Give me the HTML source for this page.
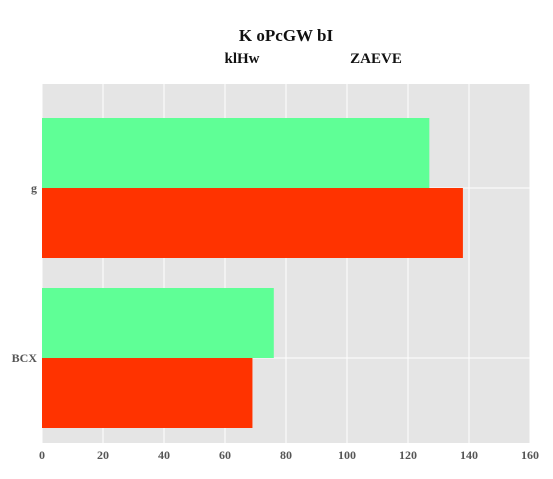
<!DOCTYPE html>
<html><head><meta charset="utf-8"><style>
body{margin:0;background:#fff;}
svg text{font-family:"Liberation Serif",serif;}
</style></head><body>
<svg width="553" height="474" xmlns="http://www.w3.org/2000/svg">
<text x="286" y="41" text-anchor="middle" font-size="17" font-weight="bold" fill="#111">K oPcGW bI</text>
<text x="242" y="63" text-anchor="middle" font-size="15" font-weight="bold" fill="#111">klHw</text>
<text x="376" y="63" text-anchor="middle" font-size="15" font-weight="bold" fill="#111">ZAEVE</text>
<rect x="42" y="84" width="488" height="359" fill="#e5e5e5"/>
<g id="grid"></g><g id="bars"></g><g id="axes"></g>
</svg>
<script>
const categories = ["g", "BCX"];
const seriesGreen = [127, 76];
const seriesRed = [138, 69];
const xTicks = [0, 20, 40, 60, 80, 100, 120, 140, 160];
const ns = "http://www.w3.org/2000/svg";
const x0 = 42, x1 = 530, xMax = 160;
const xs = v => x0 + v / xMax * (x1 - x0);
const centers = [188, 358];
const barH = 70;
const grid = document.getElementById('grid'), bars = document.getElementById('bars'), axes = document.getElementById('axes');
function mk(tag, attrs, parent) { const e = document.createElementNS(ns, tag); for (const k in attrs) e.setAttribute(k, attrs[k]); parent.appendChild(e); return e; }
xTicks.forEach(t => {
  const l = mk('line', {x1: xs(t), x2: xs(t), y1: 84, y2: 443, stroke: '#fff', 'stroke-width': 1}, grid);
  
  
  const tx = mk('text', {x: xs(t), y: 459, 'text-anchor': 'middle', 'font-size': 12, 'font-weight': 'bold', fill: '#555'}, axes);
  tx.textContent = t;
  
  
});
categories.forEach((c, i) => {
  const cy = centers[i];
  const gl = mk('line', {x1: x0, x2: x1, y1: cy, y2: cy, stroke: '#fff', 'stroke-width': 1}, grid);
  
  
  const g = mk('rect', {x: x0, y: cy - barH, width: xs(seriesGreen[i]) - x0, height: barH, fill: '#5fff96'}, bars);
  
  
  const r = mk('rect', {x: x0, y: cy, width: xs(seriesRed[i]) - x0, height: barH, fill: '#ff3300'}, bars);
  
  
  const t = mk('text', {x: 37, y: cy + 4, 'text-anchor': 'end', 'font-size': 12, 'font-weight': 'bold', fill: '#555'}, axes);
  t.textContent = c;
  
  
});
</script>
</body></html>
